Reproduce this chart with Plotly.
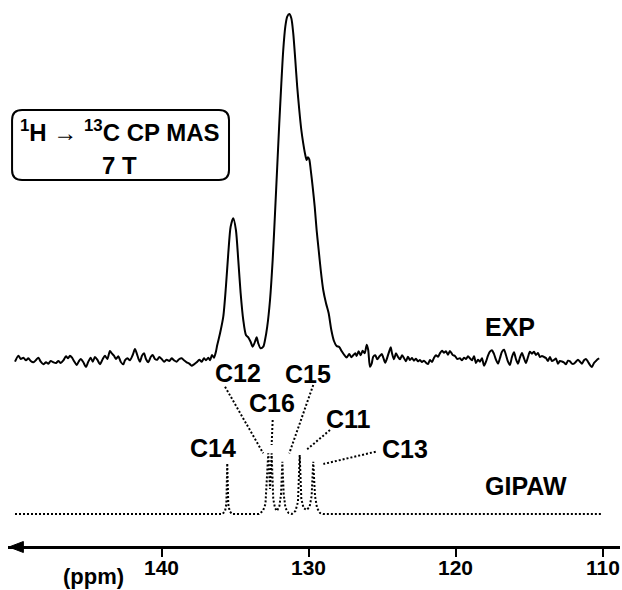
import plotly.graph_objects as go

# ---------------- data ----------------
# Experimental 1H->13C CP MAS spectrum: chemical shift (ppm) and intensity (a.u.)
exp_ppm = [
    149.97, 149.74, 149.58, 149.40, 149.22, 149.06, 148.90, 148.72, 148.54, 148.38,
    148.22, 148.04, 147.86, 147.70, 147.54, 147.36, 147.18, 147.02, 146.86, 146.68,
    146.50, 146.36, 146.23, 146.09, 145.96, 145.77, 145.64, 145.50, 145.32, 145.14,
    145.00, 144.82, 144.68, 144.53, 144.37, 144.19, 144.00, 143.85, 143.69, 143.51,
    143.37, 143.24, 143.10, 142.94, 142.78, 142.60, 142.49, 142.33, 142.15, 141.96,
    141.81, 141.69, 141.58, 141.47, 141.33, 141.19, 141.06, 140.90, 140.74, 140.60,
    140.45, 140.29, 140.15, 139.99, 139.83, 139.65, 139.47, 139.31, 139.15, 138.97,
    138.79, 138.63, 138.47, 138.29, 138.11, 137.95, 137.79, 137.61, 137.43, 137.27,
    137.11, 136.98, 136.82, 136.70, 136.57, 136.43, 136.30, 136.21, 136.02, 135.80,
    135.62, 135.46, 135.30, 135.12, 134.94, 134.78, 134.62, 134.44, 134.26, 134.10,
    133.94, 133.80, 133.64, 133.53, 133.42, 133.26, 133.08, 132.96, 132.81, 132.62,
    132.44, 132.28, 132.13, 131.99, 131.85, 131.72, 131.58, 131.45, 131.31, 131.17,
    131.04, 130.90, 130.77, 130.63, 130.49, 130.36, 130.22, 130.13, 130.04, 129.95,
    129.85, 129.72, 129.58, 129.45, 129.31, 129.17, 129.00, 128.81, 128.63, 128.45,
    128.27, 128.09, 127.91, 127.75, 127.59, 127.41, 127.23, 127.09, 126.96, 126.82,
    126.73, 126.59, 126.45, 126.32, 126.18, 126.04, 125.94, 125.82, 125.70, 125.60,
    125.46, 125.32, 125.19, 125.02, 124.92, 124.78, 124.64, 124.51, 124.41, 124.32,
    124.19, 124.05, 123.92, 123.78, 123.64, 123.51, 123.37, 123.24, 123.10, 122.96,
    122.83, 122.69, 122.56, 122.42, 122.28, 122.15, 122.01, 121.87, 121.74, 121.60,
    121.47, 121.33, 121.19, 121.06, 120.92, 120.79, 120.65, 120.51, 120.38, 120.19,
    120.04, 119.88, 119.70, 119.56, 119.42, 119.29, 119.15, 119.02, 118.88, 118.74,
    118.61, 118.47, 118.34, 118.20, 118.06, 117.93, 117.79, 117.66, 117.52, 117.39,
    117.25, 117.11, 116.98, 116.84, 116.70, 116.57, 116.43, 116.30, 116.16, 116.02,
    115.89, 115.75, 115.62, 115.48, 115.34, 115.21, 115.07, 114.94, 114.80, 114.66,
    114.53, 114.39, 114.26, 114.12, 113.98, 113.85, 113.71, 113.58, 113.44, 113.30,
    113.17, 113.03, 112.90, 112.76, 112.62, 112.49, 112.35, 112.21, 112.08, 111.94,
    111.81, 111.67, 111.53, 111.40, 111.26, 111.13, 110.99, 110.85, 110.72, 110.58,
    110.45, 110.31, 110.22,
]
exp_int = [
    -1.7, 4.3, 1, 2.3, -0.3, 1.7, -1, -2.3, 0, 2.3,
    -1.7, -4.3, -2.3, -3.7, -1, -2.3, -3, -1, -3, -0.3,
    3.7, 1.7, 4.3, 2.3, -1, -5, -1.7, 1, -2.3, -7,
    -2.3, 2.3, -1.7, 3, 0.3, -4.3, 1, 4.3, 1, 9,
    6.3, 4.3, 1, 3.7, -1.7, -4.3, -0.3, 1.7, -0.3, 5,
    11, 6.7, 1.7, -1.7, 4.3, 6.7, 1, -2.3, 3, 5,
    1, 0.3, 3, 1, -1.7, 0.3, -1, 1.7, -0.3, -1.7,
    1, 1.7, -0.3, -2.3, -3.7, -5.7, -4.3, -2.3, 0.3, -1.7,
    1.7, -0.3, 2.3, -0.3, 5, 2.3, 8.3, 15, 26.7, 43.3,
    73.3, 106.7, 133.3, 141.7, 130, 100, 67, 40, 25, 22.7,
    18.3, 13.3, 18.3, 22.7, 16.7, 11.7, 13.3, 20, 33.3, 60,
    100, 146.7, 193.3, 236.7, 276.7, 310, 333.3, 343.3, 346, 341.7,
    326.7, 300, 273.3, 250, 230, 216.7, 205, 200, 202.7, 200.7,
    190, 173.3, 153.3, 130, 110, 90, 70, 56.7, 46.7, 30,
    19, 14, 13, 9, 5.5, 2.5, 6, 2.7, 4.7, 6.7,
    4, 8.7, 4.7, 9.3, 6.7, 15.3, 10, -6.7, -3.3, 3.3,
    4.7, 0.7, 3.3, 6, 2.7, -2.7, 2.7, 8.7, 12.7, 6.7,
    0.7, 6.7, 3.3, 0.7, 4.7, 2, -1.3, 3.3, 0, 2,
    -0.7, 1.3, -1.3, 0, -2, -0.7, -2.7, -4, 0, -2,
    2, 4.7, 3.3, 6.7, 9.3, 7.3, 8.7, 5.3, 9, 5,
    4, 1, 1.7, -0.3, 2.3, 1, 3.7, 1.7, -0.3, 3.7,
    -3, 0.3, -1.7, 1.7, -5.7, -1.7, 4.3, 8.3, 9.7, 6.3,
    0.3, -3.7, 1.7, 8.3, 10.3, 5, -1.7, -5, 3, 7.7,
    1, -3.7, 2.3, 7, 1.7, -3, 3, 8.3, 6.3, 8.3,
    5, 7, 3, 4, 3, 2, -1, 3, -1, 0,
    1.5, -3.7, -1, -1.5, -2.5, -4.3, -0.7, -1.3, -3.7, -3.7,
    -1.7, 0.3, -1.7, -3.7, -0.3, 1, -1.7, -5, -7, -3,
    -1, 1, 1.7,
]

# GIPAW computed spectrum (dotted trace)
gipaw_ppm = [
    149.97, 135.85, 135.68, 135.59, 135.53, 135.46, 135.37, 135.21,
    133.37, 133.10, 132.93, 132.74, 132.62, 132.51, 132.40, 132.28, 132.15, 131.98,
    131.87, 131.78, 131.69, 131.57, 131.36, 131.13, 130.89, 130.72, 130.60, 130.49,
    130.34, 130.14, 129.93, 129.79, 129.68, 129.56, 129.42, 129.22, 129.02, 110.11,
]
gipaw_int = [
    0, 0, 3, 10, 50.7, 10, 3, 0,
    0, 3, 10, 60.7, 25, 60.7, 15, 6, 3, 8,
    20, 52.3, 20, 6, 1, 0, 3, 12, 59, 15,
    6, 4, 7, 18, 52.3, 18, 6, 1, 0, 0,
]

# carbon site labels
site_labels = ["C14", "C12", "C16", "C15", "C11", "C13"]

# axis ticks
tick_vals = [140, 130, 120, 110]
tick_text = ["140", "130", "120", "110"]

# ---------------- layout constants ----------------
EXP_BASE = 188      # vertical offset of experimental trace
GIPAW_BASE = 34     # vertical offset of GIPAW trace
X_RANGE = [150.446, 108.81]
Y_RANGE = [-42, 548]
AXIS_POS = 43 / 590  # x axis sits 43 px above the bottom edge
FONT = "Liberation Sans, Arial, sans-serif"

# label positions (ppm, y) and leader lines ((x0, y0), (x1, y1))
label_pos = [(136.47, 100), (134.77, 175.5), (132.49, 145), (130.07, 174), (127.25, 129), (123.44, 99)]
leaders = [
    None,
    ((135.68, 161.3), (133.08, 94.7)),
    ((132.44, 128), (132.51, 103)),
    ((129.68, 163), (131.31, 94.7)),
    ((128.54, 118), (130.09, 98.7)),
    ((125.43, 96.3), (128.99, 84)),
]

fig = go.Figure()

fig.add_trace(go.Scatter(
    x=exp_ppm, y=[EXP_BASE + v for v in exp_int],
    mode="lines", line=dict(color="black", width=2, shape="spline", smoothing=0.7),
    hoverinfo="skip", showlegend=False,
))
fig.add_trace(go.Scatter(
    x=gipaw_ppm, y=[GIPAW_BASE + v for v in gipaw_int],
    mode="lines", line=dict(color="black", width=2, dash="2px,2px"),
    hoverinfo="skip", showlegend=False,
))

annotations = []
label_font = dict(family=FONT, size=25, color="black", weight="bold")
for name, (lx, ly) in zip(site_labels, label_pos):
    annotations.append(dict(x=lx, y=ly, xref="x", yref="y", text=name, showarrow=False,
                            font=label_font, xanchor="center", yanchor="middle"))

annotations.append(dict(x=118.13, y=221, xref="x", yref="y", text="EXP", showarrow=False,
                        font=label_font, xanchor="left", yanchor="middle"))
annotations.append(dict(x=118.13, y=62, xref="x", yref="y", text="GIPAW", showarrow=False,
                        font=label_font, xanchor="left", yanchor="middle"))

# info box text
box_font = dict(family=FONT, size=24, color="black", weight="bold")
annotations.append(dict(x=142.83, y=417.5, xref="x", yref="y",
                        text="<sup>1</sup>H \u2192 <sup>13</sup>C CP MAS", showarrow=False,
                        font=box_font, xanchor="center", yanchor="middle"))
annotations.append(dict(x=142.83, y=383, xref="x", yref="y", text="7 T", showarrow=False,
                        font=box_font, xanchor="center", yanchor="middle"))

# tick labels (text under the axis ticks)
tick_font = dict(family=FONT, size=21, color="black", weight="bold")
for tv, tt in zip(tick_vals, tick_text):
    annotations.append(dict(x=tv, y=-19, xref="x", yref="y", text=tt, showarrow=False,
                            font=tick_font, xanchor="center", yanchor="middle"))

# (ppm) unit label
annotations.append(dict(x=144.66, y=-28.5, xref="x", yref="y", text="(ppm)", showarrow=False,
                        font=dict(family=FONT, size=22, color="black", weight="bold"),
                        xanchor="center", yanchor="middle"))

shapes = []
# arrowhead at the left end of the axis
shapes.append(dict(type="path", xref="x", yref="y",
                   path="M 150.38,1 L 149.40,6.5 L 149.40,-4.5 Z",
                   fillcolor="black", line=dict(color="black", width=1)))

for ld in leaders:
    if ld is None:
        continue
    (x0, y0), (x1, y1) = ld
    shapes.append(dict(type="line", xref="x", yref="y", x0=x0, y0=y0, x1=x1, y1=y1,
                       line=dict(color="black", width=2, dash="2px,2px")))

# rounded info box
L, R, T, B = 150.17, 135.41, 438, 368
rx, ry = 0.68, 10
path = (f"M {L - rx},{T} L {R + rx},{T} Q {R},{T} {R},{T - ry} "
        f"L {R},{B + ry} Q {R},{B} {R + rx},{B} L {L - rx},{B} "
        f"Q {L},{B} {L},{B + ry} L {L},{T - ry} Q {L},{T} {L - rx},{T} Z")
shapes.append(dict(type="path", xref="x", yref="y", path=path,
                   line=dict(color="black", width=2), fillcolor="rgba(0,0,0,0)"))

fig.update_layout(
    width=622, height=590,
    margin=dict(l=8, r=2, t=0, b=0),
    paper_bgcolor="white", plot_bgcolor="white",
    showlegend=False,
    annotations=annotations, shapes=shapes,
    xaxis=dict(range=X_RANGE, showgrid=False, zeroline=False,
               showline=True, linewidth=2.5, linecolor="black",
               anchor="free", position=AXIS_POS,
               ticks="outside", ticklen=8, tickwidth=2, tickcolor="black",
               tickvals=tick_vals, showticklabels=False),
    yaxis=dict(range=Y_RANGE, visible=False, showgrid=False, zeroline=False),
)

# remove the default page margin so the figure fills the window from its top-left corner
fig.write_html(
    "out.html",
    config={"displayModeBar": False, "staticPlot": True},
    post_script="document.body.style.margin='0';document.body.style.padding='0';"
                "document.body.style.overflow='hidden';",
)
